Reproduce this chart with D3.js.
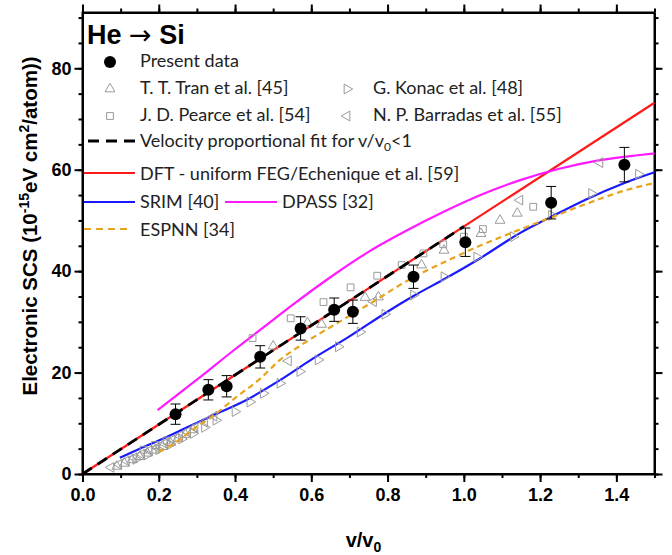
<!DOCTYPE html>
<html><head><meta charset="utf-8">
<script src="https://cdn.jsdelivr.net/npm/d3@7"></script>
<style>
html,body{margin:0;padding:0;background:#fff;}
svg{display:block;}
</style></head>
<body>
<svg id="chart" width="672" height="555"></svg>
<script>
// ---------- DATA ----------
const xTicks = [0.0, 0.2, 0.4, 0.6, 0.8, 1.0, 1.2, 1.4];
const yTicks = [0, 20, 40, 60, 80];

const present_v   = [0.244, 0.330, 0.378, 0.466, 0.572, 0.660, 0.709, 0.868, 1.004, 1.229, 1.421];
const present_val = [11.8, 16.6, 17.3, 23.1, 28.7, 32.4, 32.0, 38.9, 45.7, 53.5, 61.0];
const present_err = [2.0, 2.0, 2.1, 2.2, 2.3, 2.3, 2.3, 2.3, 2.8, 3.2, 3.4];

const tran_v   = [0.09,0.11,0.13,0.15,0.17,0.19,0.21,0.23,0.25,0.27,0.29, 0.50,0.59,0.627,0.741,0.776,0.889,0.948,1.045,1.095,1.14];
const tran_val = [1.5,2.1,2.8,3.4,4.1,4.7,5.4,6.2,7.0,7.8,8.7, 25.2,29.8,29.5,34.8,34.9,41.2,44.1,47.4,50.0,51.4];

const konac_v   = [0.14,0.17,0.20,0.23,0.26,0.29,0.32,0.35,0.40,0.439,0.474,0.518,0.57,0.618,0.671,0.728,0.793,0.868,0.948,1.034,1.13,1.23,1.335,1.458];
const konac_val = [2.9,3.8,4.8,5.8,6.9,8.0,9.2,10.6,12.3,14.2,15.9,17.9,20.2,22.5,25.1,28.0,31.5,35.3,38.9,42.8,46.8,51.0,55.3,59.1];

const pearce_v   = [0.16,0.19,0.22,0.446,0.546,0.632,0.703,0.773,0.837,0.894,0.946,1.0,1.05,1.182];
const pearce_val = [4.8,5.7,6.6,26.8,30.7,33.9,36.8,39.1,41.2,43.5,45.3,46.8,48.3,52.7];

const barradas_v   = [0.075,0.095,0.115,0.135,0.155,0.175,0.195,0.215,0.235,0.255,0.275,0.295,0.32,0.345,0.54,0.763,1.147,1.357];
const barradas_val = [1.3,1.9,2.6,3.2,3.9,4.6,5.2,6.0,6.7,7.5,8.3,9.2,10.2,11.4,22.3,34.0,54.0,61.4];

const fit_v   = [0.0, 1.0];
const fit_val = [0.0, 48.8];

const dft_v   = [0.0, 1.5];
const dft_val = [0.0, 73.2];

const srim_v   = [0.098,0.15,0.2,0.269,0.343,0.43,0.518,0.605,0.693,0.806,0.868,0.955,1.042,1.147,1.226,1.322,1.418,1.5];
const srim_val = [3.2,5.0,6.6,9.0,11.6,14.6,18.5,22.8,26.8,32.3,35.1,38.7,42.5,47.5,50.6,54.2,57.3,59.5];

const dpass_v   = [0.197,0.3,0.4,0.5,0.55,0.65,0.75,0.85,0.95,1.05,1.15,1.25,1.35,1.45,1.5];
const dpass_val = [12.6,18.6,24.6,30.4,33.3,38.8,43.8,48.0,51.8,55.2,58.0,60.2,61.8,62.8,63.2];

const espnn_v   = [0.2,0.25,0.29,0.343,0.404,0.466,0.518,0.579,0.667,0.754,0.868,0.955,1.042,1.147,1.226,1.322,1.418,1.5];
const espnn_val = [4.4,6.5,8.8,11.5,15.2,18.8,22.5,25.7,29.7,33.6,38.8,42.0,45.0,48.2,50.5,53.3,55.8,57.4];

// ---------- LAYOUT ----------
const svg = d3.select("#chart");
const L = 82.5, R = 654.5, T = 12.5, B = 474;
const x = d3.scaleLinear().domain([0, 1.5]).range([L, R]);
const y = d3.scaleLinear().domain([0, 91]).range([B, T]);

const gray = "#9a9a9a";
const tickFont = "'Liberation Sans', Arial, sans-serif";
const legFont = "Lato, 'Open Sans', sans-serif";

function styleAxis(g){
  g.selectAll("path.domain").attr("stroke","#000").attr("stroke-width",2);
  g.selectAll(".tick line").attr("stroke","#000").attr("stroke-width",2);
  g.selectAll(".tick text").attr("font-family",tickFont).attr("font-weight","bold").attr("font-size",18).attr("fill","#000");
}
const xMinor = d3.range(0, 1.501, 0.1);
const yMinor = d3.range(0, 91, 5);

function minor(axisGen, scale, vals, tr){
  const g = svg.append("g").attr("transform", tr).call(axisGen(scale).tickValues(vals).tickSize(4).tickFormat(""));
  styleAxis(g); g.select("path.domain").remove();
}
minor(d3.axisBottom, x, xMinor, `translate(0,${B})`);
minor(d3.axisTop, x, xMinor, `translate(0,${T})`);
minor(d3.axisLeft, y, yMinor, `translate(${L},0)`);
minor(d3.axisRight, y, yMinor, `translate(${R},0)`);

const gx = svg.append("g").attr("transform",`translate(0,${B})`)
  .call(d3.axisBottom(x).tickValues(xTicks).tickSize(8).tickPadding(6).tickFormat(d3.format(".1f")).tickSizeOuter(0));
styleAxis(gx);
const gxt = svg.append("g").attr("transform",`translate(0,${T})`)
  .call(d3.axisTop(x).tickValues(xTicks).tickSize(8).tickFormat("").tickSizeOuter(0));
styleAxis(gxt);
const gy = svg.append("g").attr("transform",`translate(${L},0)`)
  .call(d3.axisLeft(y).tickValues(yTicks).tickSize(8).tickPadding(3).tickSizeOuter(0));
styleAxis(gy);
const gyr = svg.append("g").attr("transform",`translate(${R},0)`)
  .call(d3.axisRight(y).tickValues(yTicks).tickSize(8).tickFormat("").tickSizeOuter(0));
styleAxis(gyr);
svg.append("rect").attr("x",L).attr("y",T).attr("width",R-L).attr("height",B-T)
  .attr("fill","none").attr("stroke","#000").attr("stroke-width",2);

// axis titles
const xt = svg.append("text").attr("x",(L+R)/2 - 5).attr("y",547).attr("text-anchor","middle")
  .attr("font-family",tickFont).attr("font-weight","bold").attr("font-size",20);
xt.append("tspan").text("v/v");
xt.append("tspan").attr("font-size",14).attr("dy",5).text("0");

const yt = svg.append("text").attr("transform","translate(37,226) rotate(-90)").attr("text-anchor","middle")
  .attr("font-family",tickFont).attr("font-weight","bold").attr("font-size",20.5);
yt.append("tspan").text("Electronic SCS (10");
yt.append("tspan").attr("font-size",14).attr("dy",-8).text("-15");
yt.append("tspan").attr("dy",8).text("eV cm");
yt.append("tspan").attr("font-size",14).attr("dy",-8).text("2");
yt.append("tspan").attr("dy",8).text("/atom))");

// ---------- CURVES ----------
const line = d3.line().x(d=>x(d[0])).y(d=>y(d[1])).curve(d3.curveMonotoneX);
const zip = (a,b)=>a.map((v,i)=>[v,b[i]]);

svg.append("path").datum(zip(dft_v,dft_val)).attr("d",line).attr("fill","none").attr("stroke","#ff1a1a").attr("stroke-width",2.2);
svg.append("path").datum(zip(srim_v,srim_val)).attr("d",line).attr("fill","none").attr("stroke","#1a1aff").attr("stroke-width",2.2);
svg.append("path").datum(zip(dpass_v,dpass_val)).attr("d",line).attr("fill","none").attr("stroke","#ff1aff").attr("stroke-width",2.2);

// ---------- SCATTER ----------
const triUp = d3.symbol().type(d3.symbolTriangle).size(42)();
const sq = d3.symbol().type(d3.symbolSquare).size(46)();
function drawSym(vs, vals, path, rot){
  svg.append("g").selectAll("path").data(zip(vs,vals)).join("path")
    .attr("d", path)
    .attr("transform", d=>`translate(${x(d[0])},${y(d[1])}) rotate(${rot})`)
    .attr("fill","none").attr("stroke",gray).attr("stroke-width",1);
}
drawSym(tran_v, tran_val, triUp, 0);
drawSym(konac_v, konac_val, triUp, 90);
drawSym(pearce_v, pearce_val, sq, 0);
drawSym(barradas_v, barradas_val, triUp, -90);

svg.append("path").datum(zip(espnn_v,espnn_val)).attr("d",line).attr("fill","none").attr("stroke","#e8a31c").attr("stroke-width",2.2).attr("stroke-dasharray","6,4");
svg.append("path").datum(zip(fit_v,fit_val)).attr("d",line).attr("fill","none").attr("stroke","#000").attr("stroke-width",2.8).attr("stroke-dasharray","11,7");

const pd = present_v.map((v,i)=>({v, val:present_val[i], e:present_err[i]}));
const eg = svg.append("g").attr("stroke","#000").attr("stroke-width",1);
pd.forEach(d=>{
  eg.append("line").attr("x1",x(d.v)).attr("x2",x(d.v)).attr("y1",y(d.val-d.e)).attr("y2",y(d.val+d.e));
  eg.append("line").attr("x1",x(d.v)-5).attr("x2",x(d.v)+5).attr("y1",y(d.val+d.e)).attr("y2",y(d.val+d.e));
  eg.append("line").attr("x1",x(d.v)-5).attr("x2",x(d.v)+5).attr("y1",y(d.val-d.e)).attr("y2",y(d.val-d.e));
});
svg.append("g").selectAll("circle").data(pd).join("circle")
  .attr("cx",d=>x(d.v)).attr("cy",d=>y(d.val)).attr("r",6).attr("fill","#000");

// ---------- LEGEND ----------
const title = svg.append("text").attr("x",87).attr("y",44).attr("font-family",tickFont).attr("font-weight","bold")
  .attr("font-size",27).attr("fill","#000");
title.append("tspan").text("He ");
title.append("tspan").attr("font-family","'DejaVu Sans', sans-serif").attr("font-weight","normal").text("\u2192");
title.append("tspan").text(" Si");

function ltext(tx, ty, s){
  return svg.append("text").attr("x",tx).attr("y",ty).attr("font-family",legFont).attr("font-size",18).attr("fill","#222").text(s);
}
svg.append("circle").attr("cx",110).attr("cy",62).attr("r",6).attr("fill","#000");
ltext(140,67,"Present data");
svg.append("path").attr("d",triUp).attr("transform","translate(110,89)").attr("fill","none").attr("stroke",gray);
ltext(140,94,"T. T. Tran et al. [45]");
svg.append("path").attr("d",triUp).attr("transform","translate(347,89) rotate(90)").attr("fill","none").attr("stroke",gray);
ltext(373,94,"G. Konac et al. [48]");
svg.append("path").attr("d",sq).attr("transform","translate(110,116)").attr("fill","none").attr("stroke",gray);
ltext(140,121,"J. D. Pearce et al. [54]");
svg.append("path").attr("d",triUp).attr("transform","translate(347,116) rotate(-90)").attr("fill","none").attr("stroke",gray);
ltext(373,121,"N. P. Barradas et al. [55]");

svg.append("line").attr("x1",84).attr("x2",135).attr("y1",141).attr("y2",141).attr("stroke","#000").attr("stroke-width",2.8).attr("stroke-dasharray","11,7").attr("stroke-dashoffset",-4);
const vt = ltext(140,147,"Velocity proportional fit for v/v");
vt.append("tspan").attr("font-size",12).attr("dy",4).text("0");
vt.append("tspan").attr("dy",-4).text("<1");

svg.append("line").attr("x1",84).attr("x2",135).attr("y1",173).attr("y2",173).attr("stroke","#ff1a1a").attr("stroke-width",2.2);
ltext(140,180,"DFT - uniform FEG/Echenique et al. [59]");
svg.append("line").attr("x1",84).attr("x2",135).attr("y1",202).attr("y2",202).attr("stroke","#1a1aff").attr("stroke-width",2.2);
ltext(140,208,"SRIM [40]");
svg.append("line").attr("x1",225).attr("x2",277).attr("y1",202).attr("y2",202).attr("stroke","#ff1aff").attr("stroke-width",2.2);
ltext(282,208,"DPASS [32]");
svg.append("line").attr("x1",84).attr("x2",131).attr("y1",229).attr("y2",229).attr("stroke","#e8a31c").attr("stroke-width",2.2).attr("stroke-dasharray","7,5");
ltext(140,236,"ESPNN [34]");
</script>
</body></html>
